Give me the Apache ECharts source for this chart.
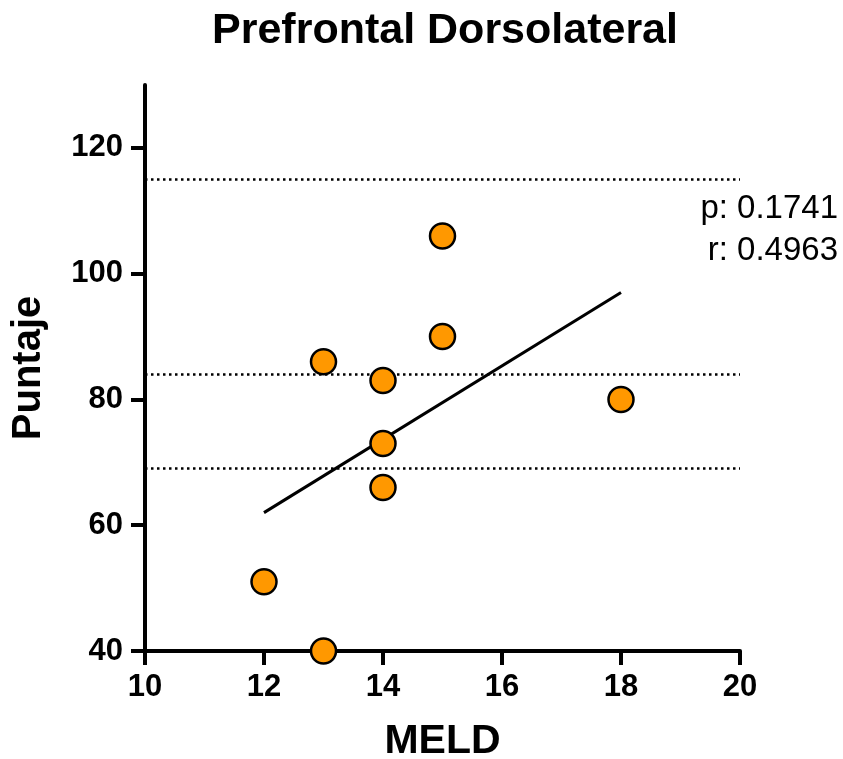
<!DOCTYPE html>
<html>
<head>
<meta charset="utf-8">
<script src="https://cdn.jsdelivr.net/npm/echarts@6/dist/echarts.min.js"></script>
<style>html,body{margin:0;padding:0;background:#fff}#c{width:843px;height:759px}</style>
</head>
<body>
<div id="c"></div>
<script>
var titleText = 'Prefrontal Dorsolateral';
var xName = 'MELD';
var yName = 'Puntaje';
var meld = [12, 13, 13, 14, 14, 14, 15, 15, 18];
var puntaje = [51, 86, 40, 83, 73, 66, 106, 90, 80];
var fitX = [12, 18];
var fitY = [62, 97];
var refLines = [115, 84, 69];
var yTicks = [40, 60, 80, 100, 120];
var xTicks = [10, 12, 14, 16, 18, 20];
var statP = 'p: 0.1741';
var statR = 'r: 0.4963';

var font = 'Liberation Sans, Arial, Helvetica, sans-serif';
var chart = echarts.init(document.getElementById('c'), null, {renderer: 'canvas'});
chart.setOption({
  animation: false,
  backgroundColor: '#fff',
  title: {
    text: titleText, left: 440, top: 5, textAlign: 'center',
    textStyle: {fontFamily: font, fontWeight: 'bold', fontSize: 43, color: '#000'}
  },
  grid: {left: 145, right: 103, top: 85, bottom: 108, containLabel: false, outerBoundsMode: 'none'},
  xAxis: {
    type: 'value', min: 10, max: 20, interval: 2,
    name: xName, nameLocation: 'middle', nameGap: 70,
    nameTextStyle: {fontFamily: font, fontWeight: 'bold', fontSize: 41, color: '#000'},
    axisLine: {show: true, lineStyle: {color: '#000', width: 4}},
    axisTick: {show: true, length: 14, lineStyle: {color: '#000', width: 4}},
    axisLabel: {margin: 21, fontFamily: font, fontWeight: 'bold', fontSize: 31, color: '#000',
      customValues: xTicks},
    splitLine: {show: false}
  },
  yAxis: {
    type: 'value', min: 40, max: 130, interval: 10,
    name: yName, nameLocation: 'middle', nameGap: 96, nameRotate: 90,
    nameTextStyle: {fontFamily: font, fontWeight: 'bold', fontSize: 40, color: '#000'},
    axisLine: {show: true, lineStyle: {color: '#000', width: 4}},
    axisTick: {show: true, length: 14, lineStyle: {color: '#000', width: 4}, customValues: yTicks},
    axisLabel: {margin: 22, fontFamily: font, fontWeight: 'bold', fontSize: 31, color: '#000',
      customValues: yTicks},
    splitLine: {show: false}
  },
  graphic: [
    {type: 'text', right: 5, top: 192, style: {text: statP, font: '33px ' + font, fill: '#000'}},
    {type: 'text', right: 5, top: 234, style: {text: statR, font: '33px ' + font, fill: '#000'}}
  ],
  series: [
    {
      type: 'line', data: [],
      markLine: {
        silent: true, symbol: ['none', 'none'],
        label: {show: false},
        lineStyle: {color: '#000', width: 2.5, type: [2.5, 3.5]},
        data: refLines.map(function (v) { return {yAxis: v}; })
      }
    },
    {
      type: 'line', z: 3,
      data: fitX.map(function (x, i) { return [x, fitY[i]]; }),
      showSymbol: false, symbol: 'none',
      lineStyle: {color: '#000', width: 3}
    },
    {
      type: 'scatter', z: 5,
      data: meld.map(function (x, i) { return [x, puntaje[i]]; }),
      symbol: 'circle', symbolSize: 25,
      itemStyle: {color: '#ff9800', borderColor: '#000', borderWidth: 2.5, opacity: 1}
    }
  ]
});
</script>
</body>
</html>
